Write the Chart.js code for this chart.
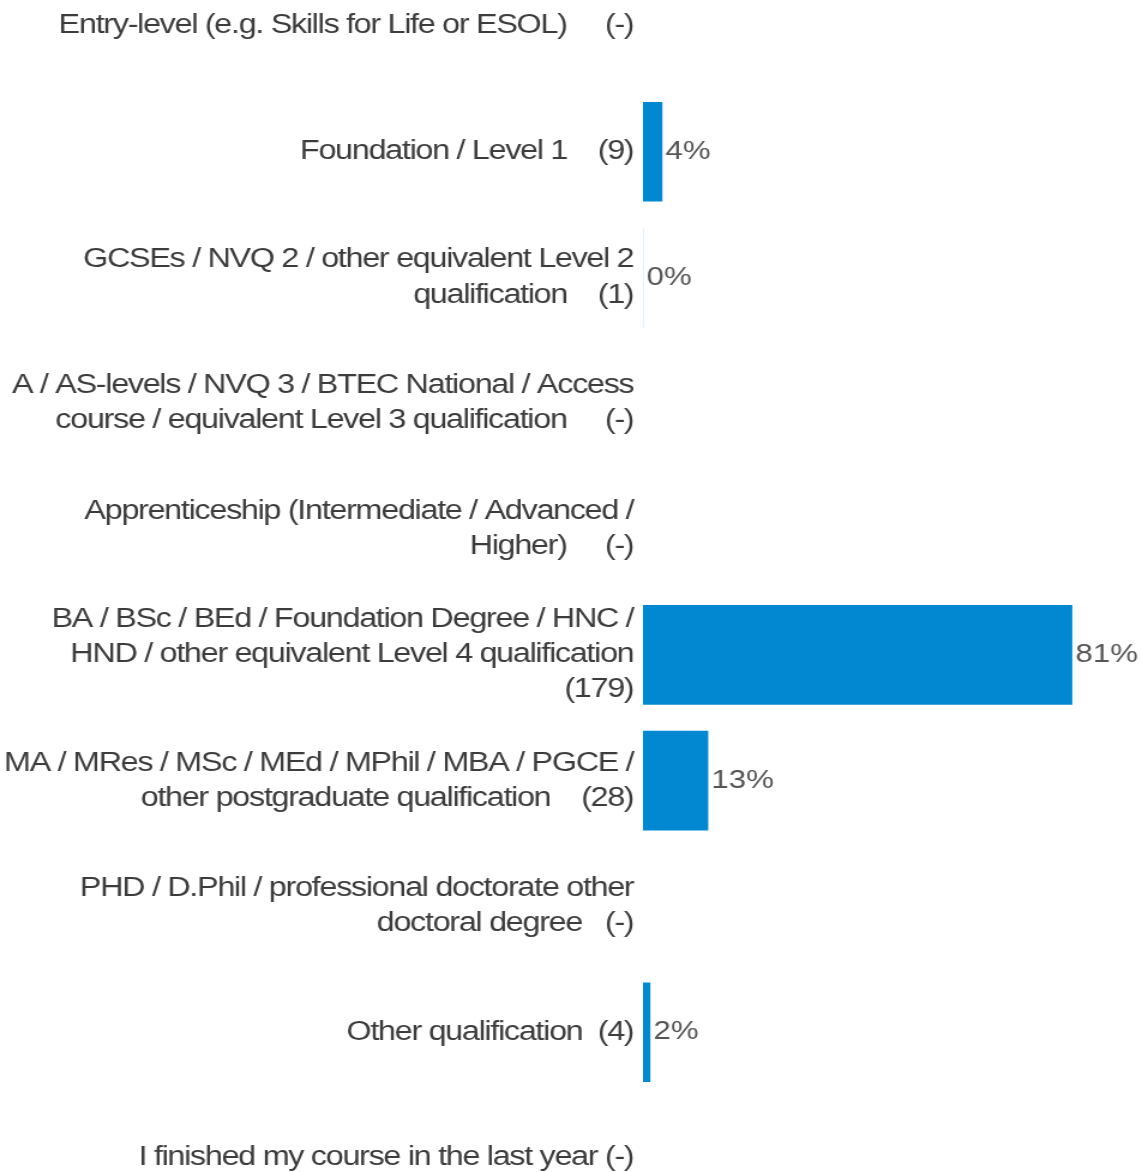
<!DOCTYPE html>
<html>
<head>
<meta charset="utf-8">
<script src="https://cdn.jsdelivr.net/npm/chart.js@4.4.1/dist/chart.umd.min.js"></script>
<style>
   html, body { margin: 0; padding: 0; background: #fff; overflow: hidden; }
   /* the source picture is stretched sideways, so draw narrow and widen */
   #wrap { width: 952px; height: 1172px; position: relative; transform: scaleX(1.19958); transform-origin: 0 0; }
</style>
</head>
<body>
<div id="wrap"><canvas id="chart"></canvas></div>
<script>
// categories, split into the lines the reference shows
const categories = [
   ['Entry-level (e.g. Skills for Life or ESOL)     (-)'],
   ['Foundation / Level 1    (9)'],
   ['GCSEs / NVQ 2 / other equivalent Level 2', 'qualification    (1)'],
   ['A / AS-levels / NVQ 3 / BTEC National / Access', 'course / equivalent Level 3 qualification     (-)'],
   ['Apprenticeship (Intermediate / Advanced /', 'Higher)     (-)'],
   ['BA / BSc / BEd / Foundation Degree / HNC /', 'HND / other equivalent Level 4 qualification', '(179)'],
   ['MA / MRes / MSc / MEd / MPhil / MBA / PGCE /', 'other postgraduate qualification    (28)'],
   ['PHD / D.Phil / professional doctorate other', 'doctoral degree   (-)'],
   ['Other qualification  (4)'],
   ['I finished my course in the last year (-)']
];
// share of respondents, percent (null = no answers)
const shares = [null, 4.07, 0.45, null, null, 81.0, 12.67, null, 1.81, null];

const barColor = '#0288d1';
const textColor = '#3c3c3c';
const fontFamily = '"Liberation Sans", Arial, sans-serif';

const valueLabels = {
   id: 'valueLabels',
   afterDatasetsDraw(chart) {
      const ctx = chart.ctx;
      const meta = chart.getDatasetMeta(0);
      ctx.save();
      ctx.letterSpacing = '0px';
      ctx.font = '26px ' + fontFamily;
      ctx.fillStyle = '#555555';
      ctx.textAlign = 'left';
      ctx.textBaseline = 'middle';
      meta.data.forEach((bar, i) => {
         const v = shares[i];
         if (v === null) return;
         const x = Math.max(bar.x, chart.chartArea.left);
         ctx.fillText(Math.round(v) + '%', x + 3, bar.y);
      });
      ctx.restore();
   }
};

// the labels in the picture are set very tight
const tightText = {
   id: 'tightText',
   beforeInit(chart) { chart.ctx.letterSpacing = '-1.1px'; },
   beforeLayout(chart) { chart.ctx.letterSpacing = '-1.1px'; },
   beforeDraw(chart) { chart.ctx.letterSpacing = '-1.1px'; }
};

new Chart(document.getElementById('chart'), {
   type: 'bar',
   data: {
      labels: categories,
      datasets: [{
         data: shares,
         backgroundColor: barColor,
         barThickness: 99,
         borderWidth: 0
      }]
   },
   options: {
      indexAxis: 'y',
      responsive: true,
      maintainAspectRatio: false,
      animation: false,
      layout: { padding: { top: 26, bottom: 14, left: 0, right: 0 } },
      scales: {
         x: {
            display: false,
            min: 0.5,
            max: 94.15,
            grid: { display: false }
         },
         y: {
            offset: false,
            grid: { display: false },
            border: { display: false },
            afterFit(scale) {
               scale.width = 536;
               scale.paddingTop = 0;
               scale.paddingBottom = 0;
            },
            ticks: {
               padding: 0,
               color: textColor,
               autoSkip: false,
               font: { family: fontFamily, size: 27, lineHeight: 1.3 }
            }
         }
      },
      plugins: {
         legend: { display: false },
         tooltip: { enabled: false }
      }
   },
   plugins: [tightText, valueLabels]
});
</script>
</body>
</html>
